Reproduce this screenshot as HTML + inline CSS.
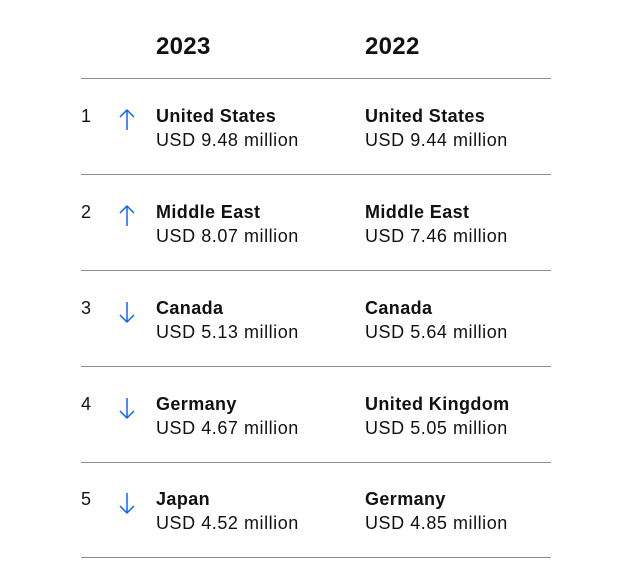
<!DOCTYPE html>
<html><head><style>
body{margin:0;width:635px;height:577px;background:#fff;font-family:"Liberation Sans",sans-serif;color:#111;position:relative;overflow:hidden}
.t{position:absolute;white-space:nowrap}
.h{font-size:24px;font-weight:bold;top:33px;letter-spacing:0.3px}
.n{font-size:18px;font-weight:bold;letter-spacing:0.4px}
.v{font-size:18px;letter-spacing:0.55px}
.r{font-size:18px}
.l{position:absolute;left:81px;width:470px;height:1px;background:#8d8d8d}
svg{position:absolute}
</style></head><body>
<div class="t h" style="left:156px">2023</div>
<div class="t h" style="left:365px">2022</div>
<div class="l" style="top:78px"></div>
<div class="l" style="top:174px"></div>
<div class="l" style="top:270px"></div>
<div class="l" style="top:366px"></div>
<div class="l" style="top:462px"></div>
<div class="l" style="top:557px"></div>

<div class="t r" style="left:81px;top:106px">1</div>
<svg style="left:118px;top:108px" width="18" height="24"><path d="M9 2V22M2 9L9 2L16 9" stroke="#0f62fe" stroke-width="1.5" fill="none"/></svg>
<div class="t n" style="left:156px;top:106px">United States</div>
<div class="t v" style="left:156px;top:130px">USD 9.48 million</div>
<div class="t n" style="left:365px;top:106px">United States</div>
<div class="t v" style="left:365px;top:130px">USD 9.44 million</div>

<div class="t r" style="left:81px;top:202px">2</div>
<svg style="left:118px;top:204px" width="18" height="24"><path d="M9 2V22M2 9L9 2L16 9" stroke="#0f62fe" stroke-width="1.5" fill="none"/></svg>
<div class="t n" style="left:156px;top:202px">Middle East</div>
<div class="t v" style="left:156px;top:226px">USD 8.07 million</div>
<div class="t n" style="left:365px;top:202px">Middle East</div>
<div class="t v" style="left:365px;top:226px">USD 7.46 million</div>

<div class="t r" style="left:81px;top:298px">3</div>
<svg style="left:118px;top:300px" width="18" height="24"><path d="M9 2V22M2 15L9 22L16 15" stroke="#0f62fe" stroke-width="1.5" fill="none"/></svg>
<div class="t n" style="left:156px;top:298px">Canada</div>
<div class="t v" style="left:156px;top:322px">USD 5.13 million</div>
<div class="t n" style="left:365px;top:298px">Canada</div>
<div class="t v" style="left:365px;top:322px">USD 5.64 million</div>

<div class="t r" style="left:81px;top:394px">4</div>
<svg style="left:118px;top:396px" width="18" height="24"><path d="M9 2V22M2 15L9 22L16 15" stroke="#0f62fe" stroke-width="1.5" fill="none"/></svg>
<div class="t n" style="left:156px;top:394px">Germany</div>
<div class="t v" style="left:156px;top:418px">USD 4.67 million</div>
<div class="t n" style="left:365px;top:394px">United Kingdom</div>
<div class="t v" style="left:365px;top:418px">USD 5.05 million</div>

<div class="t r" style="left:81px;top:489px">5</div>
<svg style="left:118px;top:491px" width="18" height="24"><path d="M9 2V22M2 15L9 22L16 15" stroke="#0f62fe" stroke-width="1.5" fill="none"/></svg>
<div class="t n" style="left:156px;top:489px">Japan</div>
<div class="t v" style="left:156px;top:513px">USD 4.52 million</div>
<div class="t n" style="left:365px;top:489px">Germany</div>
<div class="t v" style="left:365px;top:513px">USD 4.85 million</div>
</body></html>
